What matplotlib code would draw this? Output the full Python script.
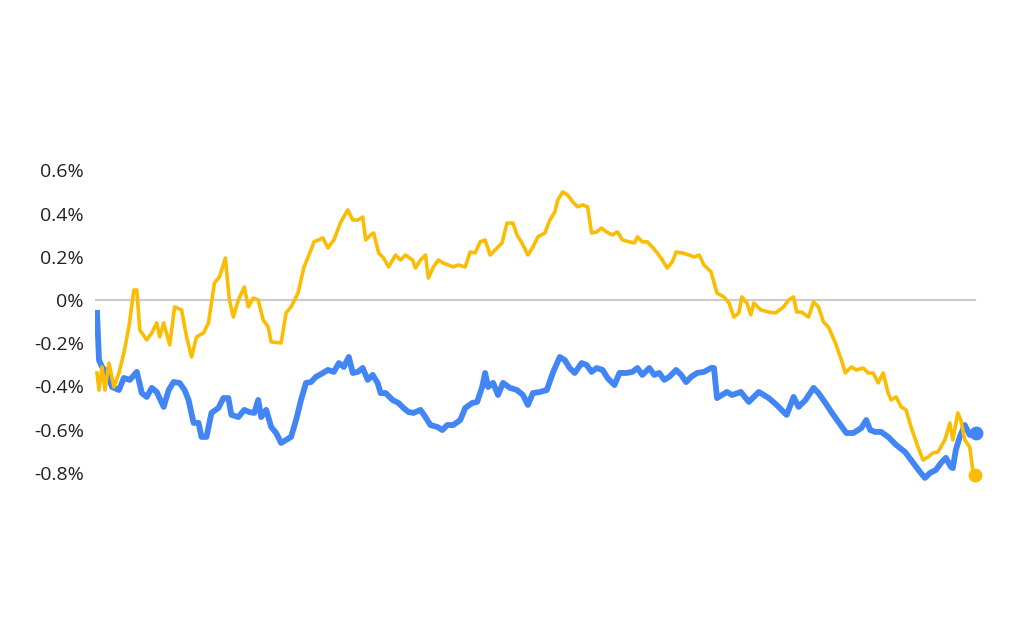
import numpy as np
import matplotlib
matplotlib.use("Agg")
import matplotlib.pyplot as plt
from matplotlib import font_manager

available = {f.name for f in font_manager.fontManager.ttflist}
family = [f for f in ['Open Sans', 'Noto Sans', 'Lato'] if f in available][:1] + ['DejaVu Sans']
plt.rcParams['font.family'] = family

# time steps (no x labels on the chart) and values in percent
yellow_t = [0, 2, 5, 8, 12, 17, 22, 27, 32, 37, 40, 43, 50, 55, 60, 63, 67, 73, 78, 85,
            90, 95, 100, 107, 112, 118, 123, 129, 133, 137, 142, 148, 152, 157, 162, 167, 172, 175, 185, 190,
            195, 202, 208, 215, 218, 227, 232, 238, 245, 252, 257, 262, 267, 270, 275, 278, 283, 288, 293, 300,
            305, 310, 317, 320, 325, 330, 333, 338, 343, 348, 353, 358, 363, 370, 375, 380, 385, 390, 395, 402,
            407, 412, 418, 422, 427, 433, 438, 443, 450, 455, 460, 463, 468, 473, 478, 483, 488, 493, 497, 502,
            507, 512, 518, 523, 528, 535, 540, 543, 548, 553, 558, 563, 568, 573, 578, 582, 588, 595, 600, 605,
            610, 617, 623, 630, 635, 640, 645, 648, 653, 657, 660, 667, 675, 682, 690, 695, 700, 703, 708, 715,
            720, 725, 730, 735, 742, 747, 752, 758, 763, 770, 775, 780, 785, 790, 795, 798, 803, 808, 813, 818,
            825, 830, 835, 840, 845, 852, 857, 860, 865, 868, 872, 877, 880, 882]
yellow = [-0.338, -0.417, -0.310, -0.417, -0.292, -0.403, -0.338, -0.245, -0.125, 0.046, 0.046, -0.139, -0.185, -0.153, -0.106, -0.171, -0.106, -0.208, -0.032, -0.046,
          -0.171, -0.264, -0.171, -0.153, -0.106, 0.079, 0.106, 0.194, 0.000, -0.079, 0.000, 0.060, -0.032, 0.009, 0.000, -0.093, -0.125, -0.194, -0.199, -0.060,
          -0.032, 0.032, 0.153, 0.231, 0.269, 0.287, 0.241, 0.278, 0.361, 0.417, 0.370, 0.370, 0.384, 0.278, 0.301, 0.310, 0.218, 0.194, 0.153, 0.208,
          0.185, 0.208, 0.185, 0.148, 0.185, 0.208, 0.102, 0.153, 0.185, 0.171, 0.162, 0.153, 0.162, 0.153, 0.222, 0.218, 0.269, 0.278, 0.208, 0.241,
          0.264, 0.356, 0.356, 0.301, 0.264, 0.208, 0.245, 0.292, 0.310, 0.370, 0.407, 0.463, 0.500, 0.486, 0.454, 0.431, 0.440, 0.431, 0.310, 0.315,
          0.333, 0.315, 0.301, 0.315, 0.278, 0.269, 0.264, 0.292, 0.269, 0.269, 0.245, 0.218, 0.185, 0.148, 0.176, 0.222, 0.218, 0.208, 0.199, 0.208,
          0.162, 0.130, 0.032, 0.014, -0.014, -0.079, -0.060, 0.014, -0.014, -0.069, -0.014, -0.046, -0.056, -0.060, -0.032, 0.000, 0.014, -0.056, -0.056, -0.079,
          -0.009, -0.032, -0.102, -0.125, -0.199, -0.264, -0.338, -0.310, -0.324, -0.315, -0.338, -0.338, -0.384, -0.338, -0.431, -0.463, -0.449, -0.495, -0.509, -0.588,
          -0.681, -0.741, -0.727, -0.708, -0.704, -0.648, -0.569, -0.648, -0.523, -0.556, -0.648, -0.681, -0.787, -0.810]

blue_t = [0, 2, 5, 10, 15, 22, 27, 33, 40, 45, 50, 55, 60, 67, 72, 77, 83, 88, 92, 97,
          102, 105, 110, 115, 122, 127, 132, 135, 142, 148, 153, 158, 162, 165, 170, 175, 180, 185, 190, 195,
          200, 205, 210, 215, 220, 227, 232, 238, 243, 248, 253, 257, 262, 267, 272, 277, 282, 285, 290, 297,
          303, 308, 313, 318, 325, 330, 335, 342, 347, 352, 358, 365, 370, 377, 382, 387, 390, 393, 398, 403,
          408, 415, 422, 428, 433, 438, 445, 452, 458, 465, 470, 475, 480, 487, 492, 497, 502, 508, 513, 520,
          525, 532, 538, 543, 548, 555, 560, 565, 570, 575, 582, 587, 592, 597, 603, 610, 617, 620, 623, 628,
          633, 638, 647, 655, 665, 675, 683, 690, 693, 700, 705, 712, 720, 725, 732, 738, 745, 753, 760, 768,
          773, 777, 782, 788, 795, 803, 812, 818, 827, 832, 837, 843, 848, 853, 858, 860, 863, 867, 872, 877,
          883]
blue = [-0.060, -0.278, -0.310, -0.338, -0.403, -0.417, -0.361, -0.370, -0.333, -0.431, -0.449, -0.407, -0.426, -0.495, -0.417, -0.380, -0.384, -0.417, -0.463, -0.569,
        -0.569, -0.634, -0.634, -0.523, -0.500, -0.454, -0.454, -0.532, -0.542, -0.509, -0.519, -0.523, -0.463, -0.542, -0.509, -0.588, -0.616, -0.662, -0.648, -0.634,
        -0.556, -0.463, -0.384, -0.380, -0.356, -0.338, -0.324, -0.333, -0.292, -0.310, -0.264, -0.338, -0.333, -0.315, -0.370, -0.347, -0.384, -0.431, -0.431, -0.463,
        -0.477, -0.500, -0.519, -0.523, -0.509, -0.542, -0.579, -0.588, -0.602, -0.579, -0.579, -0.556, -0.500, -0.477, -0.472, -0.403, -0.338, -0.403, -0.384, -0.440,
        -0.384, -0.407, -0.417, -0.440, -0.486, -0.431, -0.426, -0.417, -0.338, -0.264, -0.278, -0.315, -0.338, -0.292, -0.301, -0.333, -0.315, -0.324, -0.361, -0.394,
        -0.338, -0.338, -0.333, -0.315, -0.347, -0.315, -0.347, -0.338, -0.370, -0.356, -0.324, -0.347, -0.380, -0.356, -0.338, -0.333, -0.315, -0.315, -0.454, -0.440,
        -0.426, -0.440, -0.426, -0.472, -0.426, -0.454, -0.486, -0.519, -0.532, -0.449, -0.495, -0.463, -0.407, -0.431, -0.477, -0.519, -0.565, -0.616, -0.616, -0.593,
        -0.556, -0.602, -0.611, -0.611, -0.634, -0.671, -0.704, -0.741, -0.796, -0.824, -0.801, -0.787, -0.755, -0.731, -0.773, -0.778, -0.694, -0.634, -0.579, -0.625,
        -0.616]

yticks = [0.6, 0.4, 0.2, 0, -0.2, -0.4, -0.6, -0.8]
ytick_labels = ['0.6%', '0.4%', '0.2%', '0%', '-0.2%', '-0.4%', '-0.6%', '-0.8%']

blue_color = '#4285F4'
yellow_color = '#FBBC04'

fig = plt.figure(figsize=(10.24, 6.4), dpi=100)
ax = fig.add_axes([0.0928, 0.2478, 0.862, 0.4995])

ax.axhline(0, color='#cccccc', linewidth=1.6, zorder=1, xmin=0, xmax=0.997)
ax.plot(yellow_t, yellow, color=yellow_color, linewidth=2.6, solid_joinstyle='round', zorder=3)
ax.plot(blue_t, blue, color=blue_color, linewidth=4.2, solid_joinstyle='round', zorder=2)
ax.plot(yellow_t[-1], yellow[-1], 'o', color=yellow_color, markersize=9, zorder=4, clip_on=False)
ax.plot(blue_t[-1], blue[-1], 'o', color=blue_color, markersize=9, zorder=4, clip_on=False)

ax.set_xlim(-2, 885)
ax.set_ylim(-0.84, 0.64)
ax.set_yticks(yticks)
ax.set_yticklabels(ytick_labels, fontsize=14, color='#222222')
ax.set_xticks([])
ax.tick_params(axis='y', length=0, pad=8)
for s in ax.spines.values():
    s.set_visible(False)

fig.savefig('out.png', dpi=100, facecolor='white')
